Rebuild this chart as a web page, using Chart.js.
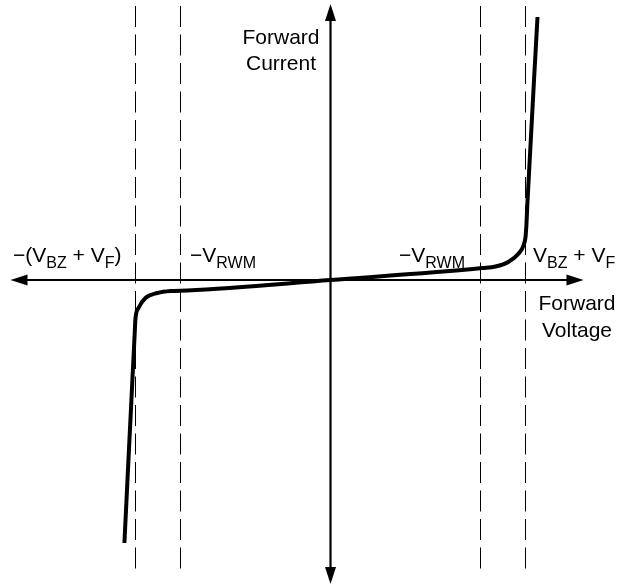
<!DOCTYPE html>
<html>
<head>
<meta charset="utf-8">
<script src="https://cdn.jsdelivr.net/npm/chart.js@4.4.0/dist/chart.umd.min.js"></script>
<style>
  body { margin: 0; background: #fff; }
  #wrap { width: 629px; height: 586px; position: relative; }
</style>
</head>
<body>
<div id="wrap"><canvas id="ivChart"></canvas></div>
<script>
// I-V curve of a bidirectional suppressor (voltage in V, current in arbitrary units)
const voltage = [-6.87, -6.53, -6.5, -6.4, -6.17, -5.77, -5.33, -4.77, 0, 5.07, 5.5, 5.94, 6.28, 6.44, 6.5, 6.53, 6.56, 6.9];
const current = [-263, -55, -38, -28, -18, -13, -11, -10.5, 0, 12, 13.5, 18.3, 26.7, 35, 43, 55, 75, 263];

// dashed reference lines: -(VBZ+VF), -VRWM, VRWM, VBZ+VF
const markerVoltages = [-6.5, -5, 5, 6.5];
const markerSpan = [274, -290];

// axis extents (arrow tips)
const voltRange = [-10.667, 8.433];
const currRange = [-304, 276];

const FONT = '"Liberation Sans", Arial, sans-serif';

const curvePoints = voltage.map((v, i) => ({ x: v, y: current[i] }));

const markerSets = markerVoltages.map(v => ({
    data: markerSpan.map(c => ({ x: v, y: c })),
    borderColor: '#000',
    borderWidth: 1,
    borderDash: [21, 7.5],
    pointRadius: 0,
    tension: 0
}));

function drawRich(ctx, parts, x, y, align) {
    const main = '21px ' + FONT, sub = '16px ' + FONT;
    let w = 0;
    parts.forEach(p => { ctx.font = p[1] ? sub : main; w += ctx.measureText(p[0]).width; });
    let cx = align === 'right' ? x - w : align === 'center' ? x - w / 2 : x;
    parts.forEach(p => {
        ctx.font = p[1] ? sub : main;
        ctx.fillText(p[0], cx, p[1] ? y + 6 : y);
        cx += ctx.measureText(p[0]).width;
    });
}

const axesPlugin = {
    id: 'arrowAxes',
    beforeDatasetsDraw(chart) {
        const { ctx, chartArea: a, scales } = chart;
        const x0 = scales.x.getPixelForValue(0);
        const y0 = scales.y.getPixelForValue(0);
        const len = 17, half = 5.5;
        ctx.save();
        ctx.strokeStyle = '#000';
        ctx.fillStyle = '#000';
        ctx.lineWidth = 2.2;
        ctx.beginPath();
        ctx.moveTo(a.left + len - 2, y0); ctx.lineTo(a.right - len + 2, y0);
        ctx.moveTo(x0, a.top + len - 2); ctx.lineTo(x0, a.bottom - len + 2);
        ctx.stroke();
        const tri = (p) => { ctx.beginPath(); ctx.moveTo(p[0], p[1]); ctx.lineTo(p[2], p[3]); ctx.lineTo(p[4], p[5]); ctx.closePath(); ctx.fill(); };
        tri([a.left, y0, a.left + len, y0 - half, a.left + len, y0 + half]);
        tri([a.right, y0, a.right - len, y0 - half, a.right - len, y0 + half]);
        tri([x0, a.top, x0 - half, a.top + len, x0 + half, a.top + len]);
        tri([x0, a.bottom, x0 - half, a.bottom - len, x0 + half, a.bottom - len]);
        ctx.restore();
    },
    afterDraw(chart) {
        const ctx = chart.ctx;
        ctx.save();
        ctx.fillStyle = '#000';
        ctx.textBaseline = 'alphabetic';
        drawRich(ctx, [['Forward']], 281, 44, 'center');
        drawRich(ctx, [['Current']], 281, 70, 'center');
        drawRich(ctx, [['\u2212(V'], ['BZ', 1], [' + V'], ['F', 1], [')']], 13, 262, 'left');
        drawRich(ctx, [['\u2212V'], ['RWM', 1]], 190, 262, 'left');
        drawRich(ctx, [['\u2212V'], ['RWM', 1]], 465, 262, 'right');
        drawRich(ctx, [['V'], ['BZ', 1], [' + V'], ['F', 1]], 533, 262, 'left');
        drawRich(ctx, [['Forward']], 577, 310, 'center');
        drawRich(ctx, [['Voltage']], 577, 337, 'center');
        ctx.restore();
    }
};

new Chart(document.getElementById('ivChart'), {
    type: 'line',
    data: {
        datasets: [{
            data: curvePoints,
            borderColor: '#000',
            borderWidth: 4,
            pointRadius: 0,
            cubicInterpolationMode: 'monotone',
            clip: false
        }, ...markerSets]
    },
    options: {
        responsive: true,
        maintainAspectRatio: false,
        animation: false,
        layout: { autoPadding: false, padding: { left: 10.5, right: 45.5, top: 4, bottom: 2 } },
        plugins: { legend: { display: false }, tooltip: { enabled: false } },
        scales: {
            x: { type: 'linear', display: false, min: voltRange[0], max: voltRange[1] },
            y: { type: 'linear', display: false, min: currRange[0], max: currRange[1] }
        }
    },
    plugins: [axesPlugin]
});
</script>
</body>
</html>
